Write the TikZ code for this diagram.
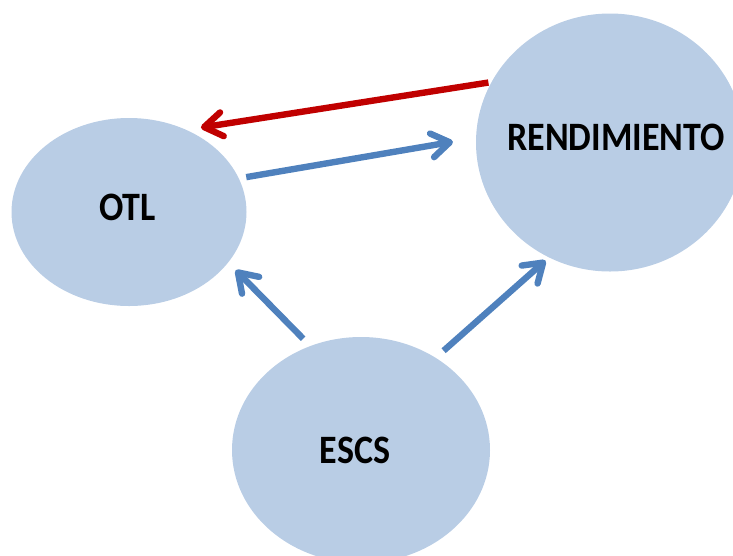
\documentclass[tikz,border=0pt]{standalone}
\usepackage{fontspec}
\setmainfont{Carlito}
\usetikzlibrary{shapes.geometric,arrows.meta}
\definecolor{bubblefill}{HTML}{B9CDE5}
\definecolor{arrowblue}{HTML}{4F81BD}
\definecolor{arrowred}{HTML}{C00000}
\begin{document}
\begin{tikzpicture}[x=1pt,y=-1pt,
  bubble/.style={ellipse, fill=bubblefill, draw=none, inner sep=0pt},
  bubbletext/.style={inner sep=0pt, font=\fontsize{36}{40}\selectfont\bfseries, yscale=1.12},
  link/.style={line width=6.4pt, line cap=butt,
    -{Straight Barb[round, length=18pt, width=24pt]}}]
\clip (0,0) rectangle (733,555);
\node[bubble, minimum width=235pt, minimum height=188pt] (otl) at (129,212) {};
\node[bubble, minimum width=268pt, minimum height=258pt] (rend) at (610,142.5) {};
\node[bubble, minimum width=258pt, minimum height=226pt] (escs) at (361,450) {};
\node[bubbletext] (otltext) at (127.5,207) {OTL};
\node[bubbletext] (rendtext) at (616,137) {RENDIMIENTO};
\node[bubbletext] (escstext) at (355,450) {ESCS};
\draw[link, arrowred, shorten <=3pt, shorten >=14.6pt] (rend.153.7) -- (otl.55.5);
\draw[link, arrowblue, shorten <=7.4pt, shorten >=23.3pt] (otl.17.1) -- (rend.178.1);
\draw[link, arrowblue, shorten <=10.1pt, shorten >=10.6pt] (escs.116.1) -- (otl.-27.6);
\draw[link, arrowblue, shorten <=10.5pt, shorten >=4.5pt] (escs.51.9) -- (rend.-118.3);
\end{tikzpicture}
\end{document}
